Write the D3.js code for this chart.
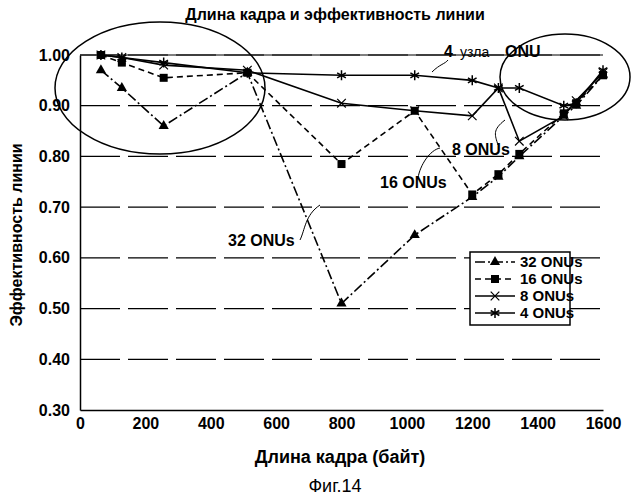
<!DOCTYPE html>
<html><head><meta charset="utf-8">
<script src="https://cdn.jsdelivr.net/npm/d3@7"></script>
<style>body{margin:0;background:#fff}text{font-family:"Liberation Sans Narrow","Liberation Sans",Arial,sans-serif}</style>
</head><body><div id="chart"></div>
<script>
const frameLengths = [64, 128, 256, 512, 800, 1024, 1200, 1280, 1344, 1480, 1518, 1600];
const onu32 = [0.97, 0.935, 0.86, 0.965, 0.51, 0.645, 0.72, 0.76, 0.80, 0.88, 0.90, 0.96];
const onu16 = [1.00, 0.985, 0.955, 0.965, 0.785, 0.89, 0.725, 0.765, 0.805, 0.885, 0.905, 0.96];
const onu8 = [1.00, 0.995, 0.98, 0.97, 0.905, 0.89, 0.88, 0.935, 0.83, 0.88, 0.91, 0.965];
const onu4 = [1.00, 0.995, 0.985, 0.965, 0.96, 0.96, 0.95, 0.935, 0.935, 0.90, 0.905, 0.97];
const xTicks = [0, 200, 400, 600, 800, 1000, 1200, 1400, 1600];
const yTicks = [0.30, 0.40, 0.50, 0.60, 0.70, 0.80, 0.90, 1.00];

const svg = d3.select("#chart").append("svg").attr("width", 639).attr("height", 500);
const x = d3.scaleLinear().domain([0, 1600]).range([80, 603]);
const y = d3.scaleLinear().domain([0.3, 1.0]).range([410, 55]);

// grid
svg.selectAll(".grid").data(yTicks.slice(1)).enter().append("line")
	.attr("x1", 80).attr("x2", 603).attr("y1", d => y(d)).attr("y2", d => y(d))
	.attr("stroke", "#000").attr("stroke-width", 1.2).attr("stroke-dasharray", "40,8");
svg.append("line").attr("x1", 80).attr("x2", 603).attr("y1", y(1)).attr("y2", y(1)).attr("stroke", "#000");

const xAxis = svg.append("g").attr("transform", "translate(0,410)")
	.call(d3.axisBottom(x).tickValues(xTicks).tickFormat(d3.format("d")).tickSize(0).tickPadding(8));
const yAxis = svg.append("g").attr("transform", "translate(80,0)")
	.call(d3.axisLeft(y).tickValues(yTicks).tickFormat(d3.format(".2f")).tickSize(0).tickPadding(10));
[xAxis, yAxis].forEach(a => {
	a.selectAll("text").attr("font-size", 16).attr("font-weight", "bold").attr("fill", "#000");
	a.select(".domain").attr("stroke-width", 1.5);
});

const series = [
	{ name: "32 ONUs", values: onu32, dash: "10,3,2,3", marker: "tri" },
	{ name: "16 ONUs", values: onu16, dash: "6,4", marker: "sq" },
	{ name: "8 ONUs", values: onu8, dash: null, marker: "x" },
	{ name: "4 ONUs", values: onu4, dash: null, marker: "star" }
];
const line = d3.line().x((d, i) => x(frameLengths[i])).y(d => y(d));

function marker(g, type, cx, cy) {
	if (type === "tri") g.append("path").attr("d", d3.symbol(d3.symbolTriangle, 45)()).attr("transform", `translate(${cx},${cy})`);
	else if (type === "sq") g.append("rect").attr("x", cx - 4).attr("y", cy - 4).attr("width", 8).attr("height", 8);
	else if (type === "x") g.append("path").attr("d", d3.symbol(d3.symbolTimes, 50)()).attr("transform", `translate(${cx},${cy})`).attr("stroke", "#000").attr("stroke-width", 1.2);
	else g.append("path").attr("d", d3.symbol(d3.symbolAsterisk, 70)()).attr("transform", `translate(${cx},${cy})`).attr("stroke", "#000").attr("stroke-width", 1.5);
}

series.forEach(s => {
	svg.append("path").datum(s.values).attr("d", line).attr("fill", "none")
		.attr("stroke", "#000").attr("stroke-width", 1.6).attr("stroke-dasharray", s.dash);
	const g = svg.append("g").attr("fill", "#000");
	s.values.forEach((v, i) => marker(g, s.marker, x(frameLengths[i]), y(v)));
});

// ellipses
svg.append("ellipse").attr("cx", 160).attr("cy", 88).attr("rx", 105).attr("ry", 66).attr("fill", "none").attr("stroke", "#000").attr("stroke-width", 1.5);
svg.append("ellipse").attr("cx", 565).attr("cy", 77).attr("rx", 65).attr("ry", 43).attr("fill", "none").attr("stroke", "#000").attr("stroke-width", 1.5);

// annotations
const ann = [
	{ t: "4", x: 444, y: 57 }, { t: "узла", x: 460, y: 57 }, { t: "ONU", x: 505, y: 57 },
	{ t: "8 ONUs", x: 452, y: 155 }, { t: "16 ONUs", x: 380, y: 188 }, { t: "32 ONUs", x: 228, y: 246 }
];
ann.forEach(a => svg.append("text").attr("x", a.x).attr("y", a.y).attr("font-size", a.t === "узла" ? 14 : 16)
	.attr("font-weight", a.t === "узла" ? "normal" : "bold").text(a.t));
const leaders = ["M432,72 C440,64 445,64 448,60", "M498,145 C495,135 492,130 505,120", "M418,178 C420,165 430,150 440,148", "M300,240 C305,230 305,215 320,205"];
leaders.forEach(d => svg.append("path").attr("d", d).attr("fill", "none").attr("stroke", "#000"));

// legend
const lg = svg.append("g");
lg.append("rect").attr("x", 470).attr("y", 252).attr("width", 100).attr("height", 73).attr("fill", "#fff").attr("stroke", "#000").attr("stroke-width", 1.5);
series.forEach((s, i) => {
	const ly = 262 + i * 17;
	lg.append("line").attr("x1", 475).attr("x2", 515).attr("y1", ly).attr("y2", ly).attr("stroke", "#000").attr("stroke-width", 1.6).attr("stroke-dasharray", s.dash);
	const g = lg.append("g").attr("fill", "#000");
	marker(g, s.marker, 495, ly);
	lg.append("text").attr("x", 520).attr("y", ly + 5).attr("font-size", 15).attr("font-weight", "bold").text(s.name);
});

svg.append("text").attr("x", 335).attr("y", 20).attr("text-anchor", "middle").attr("font-size", 16).attr("font-weight", "bold").text("Длина кадра и эффективность линии");
svg.append("text").attr("x", 340).attr("y", 463).attr("text-anchor", "middle").attr("font-size", 18).attr("font-weight", "bold").text("Длина кадра (байт)");
svg.append("text").attr("transform", "translate(22,235) rotate(-90)").attr("text-anchor", "middle").attr("font-size", 16).attr("font-weight", "bold").text("Эффективность линии");
svg.append("text").attr("x", 335).attr("y", 492).attr("text-anchor", "middle").attr("font-size", 18).attr("font-family", "Liberation Sans").text("Фиг.14");
</script></body></html>
